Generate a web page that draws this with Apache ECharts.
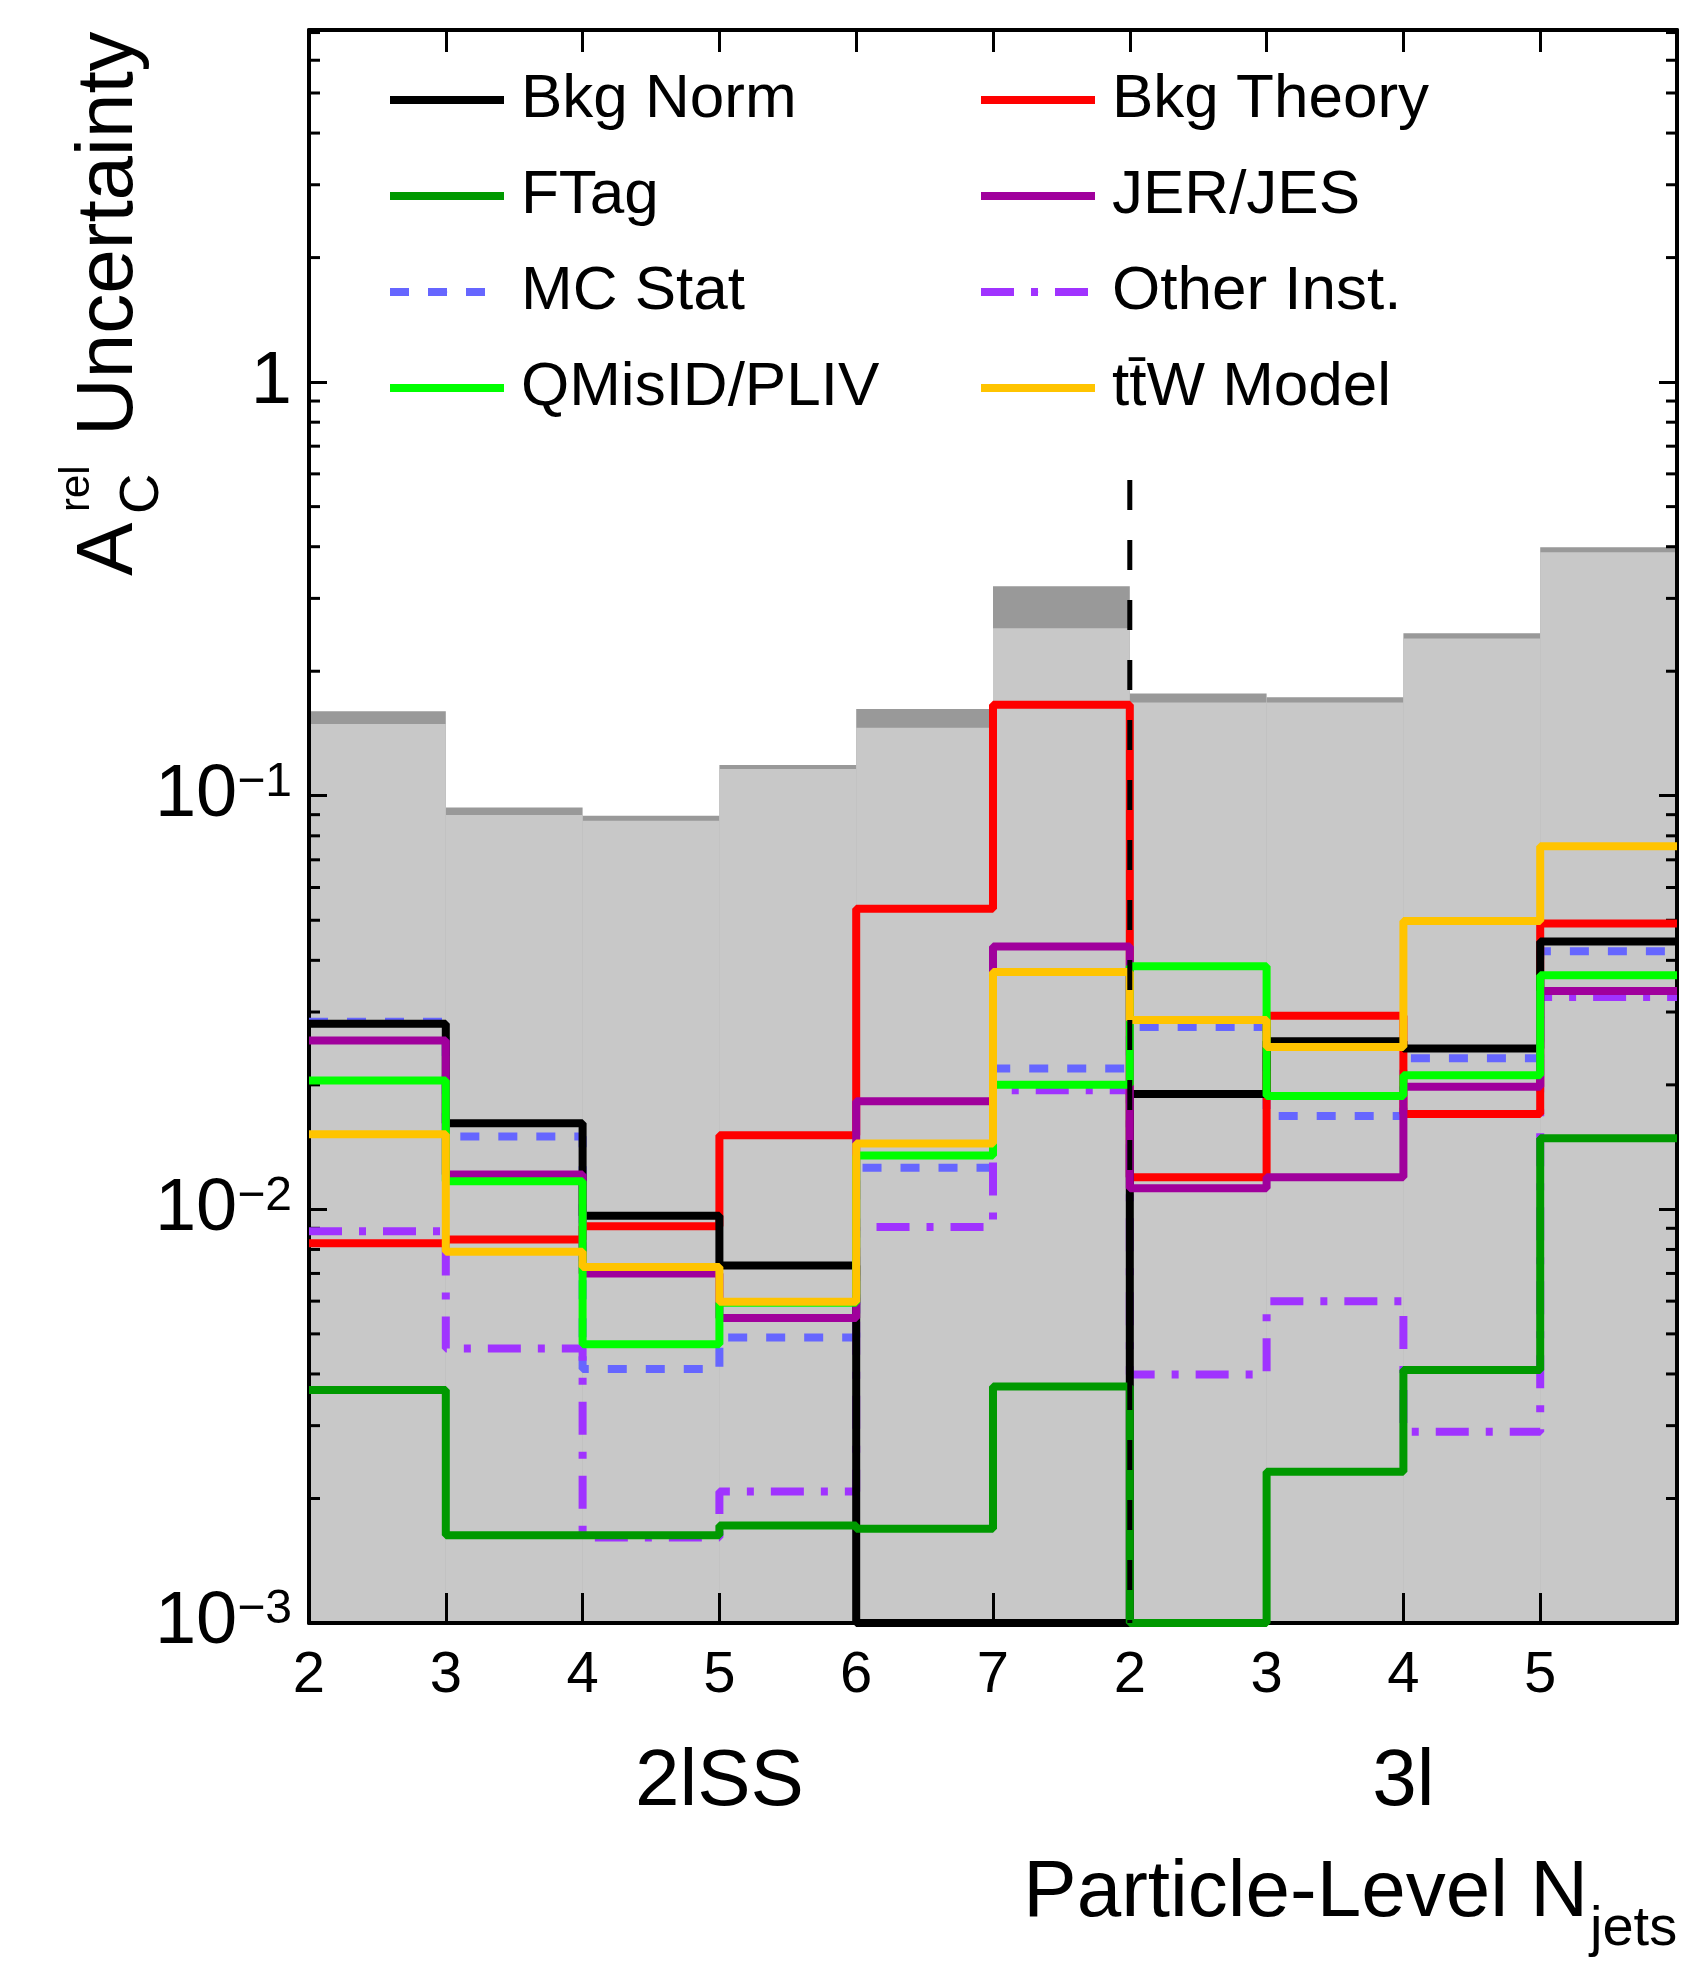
<!DOCTYPE html>
<html>
<head>
<meta charset="utf-8">
<script src="https://cdn.jsdelivr.net/npm/echarts@6/dist/echarts.min.js"></script>
<style>
  html, body { margin: 0; padding: 0; background: #ffffff; }
  #chart { width: 1691px; height: 1973px; }
</style>
</head>
<body>
<div id="chart"></div>
<script>
// Bin edge labels: six 2lSS jet bins followed by four 3l jet bins
const binLabels = ['2', '3', '4', '5', '6', '7', '2', '3', '4', '5'];

// Relative uncertainty on A_C per bin, one array per source
const bkgNorm   = [0.0281, 0.01615, 0.00965, 0.00732, 0, 0, 0.0190, 0.0255, 0.0245, 0.0444];
const bkgTheory = [0.00828, 0.00846, 0.0091, 0.0151, 0.0533, 0.166, 0.01195, 0.0294, 0.0170, 0.0491];
const fTag      = [0.00366, 0.00163, 0.00163, 0.00172, 0.00169, 0.00373, 0, 0.00232, 0.00409, 0.01486];
const jerJes    = [0.0256, 0.01214, 0.0070, 0.00546, 0.01825, 0.0432, 0.01125, 0.01195, 0.0198, 0.0337];
const mcStat    = [0.0284, 0.0150, 0.00411, 0.0049, 0.0126, 0.0219, 0.0276, 0.01682, 0.0232, 0.0421];
const otherInst = [0.00885, 0.00461, 0.00161, 0.00208, 0.00906, 0.0194, 0.00399, 0.0060, 0.0029, 0.0326];
const qMisId    = [0.0205, 0.0117, 0.00472, 0.00595, 0.0135, 0.0200, 0.0387, 0.0188, 0.0211, 0.0368];
const ttwModel  = [0.0152, 0.0079, 0.00726, 0.00598, 0.01442, 0.0375, 0.0287, 0.0247, 0.0498, 0.0755];

// Total uncertainty bands (systematic only, and including statistical)
const totalSyst = [0.149, 0.0898, 0.0870, 0.116, 0.146, 0.254, 0.168, 0.168, 0.240, 0.388];
const totalAll  = [0.160, 0.0937, 0.0895, 0.1187, 0.162, 0.321, 0.1766, 0.173, 0.247, 0.399];

// Region separator between 2lSS and 3l
const separatorX = 6;
const separatorTop = 0.58;

const Y_MIN = 0.001;
const Y_MAX = 7.1;
const X_MAX = binLabels.length;
const FONT = 'Liberation Sans, Arial, Helvetica, sans-serif';

function stepPoints(vals) {
  const pts = vals.map((v, i) => [i, Math.max(v, Y_MIN)]);
  pts.push([vals.length, Math.max(vals[vals.length - 1], Y_MIN)]);
  return pts;
}

function histSeries(name, vals, color, dash) {
  return {
    name: name,
    type: 'line',
    step: 'end',
    data: stepPoints(vals),
    symbol: 'none',
    clip: false,
    z: 5,
    animation: false,
    silent: true,
    emphasis: { disabled: true },
    itemStyle: { color: color },
    lineStyle: { color: color, width: 8, type: dash || 'solid', cap: 'butt' }
  };
}

function bandSeries(vals, color) {
  return {
    type: 'custom',
    z: 1,
    silent: true,
    animation: false,
    data: vals.map((v, i) => [i, i + 1, v]),
    encode: { x: [0, 1], y: 2 },
    renderItem: function (params, api) {
      const a = api.coord([api.value(0), api.value(2)]);
      const b = api.coord([api.value(1), Y_MIN]);
      return {
        type: 'rect',
        shape: { x: a[0], y: a[1], width: b[0] - a[0], height: b[1] - a[1] },
        style: { fill: color }
      };
    }
  };
}

// Minor log ticks (2..9 in every decade) on both vertical frame sides
const minorTicks = [];
for (let e = -3; e <= 0; e++) {
  for (let m = 2; m <= 9; m++) {
    const v = m * Math.pow(10, e);
    if (v < Y_MAX) minorTicks.push(v);
  }
}

const minorTickSeries = {
  type: 'custom',
  z: 4,
  silent: true,
  animation: false,
  data: minorTicks.map(v => [0, v]),
  encode: { x: 0, y: 1 },
  renderItem: function (params, api) {
    const v = api.value(1);
    const l = api.coord([0, v]);
    const r = api.coord([X_MAX, v]);
    const st = { stroke: '#000', lineWidth: 3 };
    return {
      type: 'group',
      children: [
        { type: 'line', shape: { x1: l[0], y1: l[1], x2: l[0] + 11, y2: l[1] }, style: st },
        { type: 'line', shape: { x1: r[0] - 11, y1: r[1], x2: r[0], y2: r[1] }, style: st }
      ]
    };
  }
};

function yLabel(v) {
  const e = Math.log10(v);
  const r = Math.round(e);
  if (Math.abs(e - r) > 1e-6) return '';
  if (r === 0) return '{b|1}';
  return '{b|10}{s|\u2212' + (-r) + '}';
}

const frameLine = { show: true, onZero: false, lineStyle: { color: '#000', width: 4 } };

const chart = echarts.init(document.getElementById('chart'), null, { renderer: 'canvas' });

const legendText = { fontSize: 62, fontFamily: FONT, color: '#000', lineHeight: 62, padding: [0, 0, 0, 12] };
const legendCommon = {
  orient: 'vertical', top: 69, padding: 0, itemWidth: 114, itemHeight: 1, itemGap: 34,
  selectedMode: false, textStyle: legendText,
  lineStyle: { width: 8 }
};

chart.setOption({
  animation: false,
  backgroundColor: '#ffffff',
  grid: { left: 309, right: 14, top: 30, bottom: 350, containLabel: false },
  legend: [
    Object.assign({ left: 386, data: ['Bkg Norm', 'FTag', 'MC Stat', 'QMisID/PLIV'] }, legendCommon),
    Object.assign({ left: 977, data: ['Bkg Theory', 'JER/JES', 'Other Inst.', 't\u0074\u0304W Model'] }, legendCommon)
  ],
  xAxis: [
    {
      type: 'value', position: 'bottom', min: 0, max: X_MAX, interval: 1, z: 3,
      axisLine: frameLine,
      axisTick: { show: true, inside: true, length: 30, lineStyle: { color: '#000', width: 3 } },
      axisLabel: {
        show: true, margin: 24, fontSize: 58, fontFamily: FONT, color: '#000',
        formatter: v => (binLabels[v] !== undefined ? binLabels[v] : '')
      },
      splitLine: { show: false }
    },
    {
      type: 'value', position: 'top', min: 0, max: X_MAX, interval: 1, z: 3,
      axisLine: frameLine,
      axisTick: { show: true, inside: true, length: 22, lineStyle: { color: '#000', width: 3 } },
      axisLabel: { show: false },
      splitLine: { show: false }
    }
  ],
  yAxis: [
    {
      type: 'log', logBase: 10, position: 'left', min: Y_MIN, max: Y_MAX, z: 3,
      axisLine: frameLine,
      axisTick: { show: true, inside: true, length: 18, lineStyle: { color: '#000', width: 3 } },
      axisLabel: {
        show: true, margin: 17, formatter: yLabel,
        rich: {
          b: { fontSize: 74, lineHeight: 74, fontFamily: FONT, color: '#000' },
          s: { fontSize: 48, lineHeight: 36, verticalAlign: 'top', fontFamily: FONT, color: '#000' }
        }
      },
      splitLine: { show: false }
    },
    {
      type: 'log', logBase: 10, position: 'right', min: Y_MIN, max: Y_MAX, z: 3,
      axisLine: frameLine,
      axisTick: { show: true, inside: true, length: 18, lineStyle: { color: '#000', width: 3 } },
      axisLabel: { show: false },
      splitLine: { show: false }
    }
  ],
  series: [
    bandSeries(totalAll, '#999999'),
    bandSeries(totalSyst, '#c8c8c8'),
    minorTickSeries,
    histSeries('MC Stat', mcStat, '#6666ff', [19, 19]),
    histSeries('Other Inst.', otherInst, '#a033ff', [33, 17, 7, 17]),
    histSeries('Bkg Theory', bkgTheory, '#ff0000'),
    histSeries('Bkg Norm', bkgNorm, '#000000'),
    histSeries('FTag', fTag, '#009900'),
    histSeries('JER/JES', jerJes, '#a0009c'),
    histSeries('QMisID/PLIV', qMisId, '#00ff00'),
    histSeries('t\u0074\u0304W Model', ttwModel, '#ffc400'),
    {
      type: 'line',
      data: [[separatorX, separatorTop], [separatorX, Y_MIN]],
      symbol: 'none',
      clip: false,
      z: 6,
      silent: true,
      animation: false,
      lineStyle: { color: '#000', width: 5, type: [30, 30] }
    }
  ]
});

// Region names under the axis, placed at the centre of each block of bins
const p2l = chart.convertToPixel({ xAxisIndex: 0, yAxisIndex: 0 }, [3, Y_MIN]);
const p3l = chart.convertToPixel({ xAxisIndex: 0, yAxisIndex: 0 }, [8, Y_MIN]);

const titleFont = { fontFamily: FONT, fill: '#000' };

chart.setOption({
  graphic: [
    { type: 'text', x: p2l[0], y: 1783, silent: true,
      style: Object.assign({ text: '2lSS', fontSize: 80, align: 'center', verticalAlign: 'middle' }, titleFont) },
    { type: 'text', x: p3l[0], y: 1783, silent: true,
      style: Object.assign({ text: '3l', fontSize: 80, align: 'center', verticalAlign: 'middle' }, titleFont) },
    { type: 'text', x: 1588, y: 1894, silent: true,
      style: Object.assign({ text: 'Particle-Level N', fontSize: 80, align: 'right', verticalAlign: 'middle' }, titleFont) },
    { type: 'text', x: 1590, y: 1930, silent: true,
      style: Object.assign({ text: 'jets', fontSize: 56, align: 'left', verticalAlign: 'middle' }, titleFont) },
    { type: 'text', x: 110, y: 576, rotation: Math.PI / 2, silent: true,
      style: Object.assign({ text: 'A', fontSize: 80, align: 'left', verticalAlign: 'middle' }, titleFont) },
    { type: 'text', x: 143, y: 514, rotation: Math.PI / 2, silent: true,
      style: Object.assign({ text: 'C', fontSize: 56, align: 'left', verticalAlign: 'middle' }, titleFont) },
    { type: 'text', x: 77, y: 512, rotation: Math.PI / 2, silent: true,
      style: Object.assign({ text: 'rel', fontSize: 42, align: 'left', verticalAlign: 'middle' }, titleFont) },
    { type: 'text', x: 110, y: 436, rotation: Math.PI / 2, silent: true,
      style: Object.assign({ text: 'Uncertainty', fontSize: 80, align: 'left', verticalAlign: 'middle' }, titleFont) }
  ]
});
</script>
</body>
</html>
